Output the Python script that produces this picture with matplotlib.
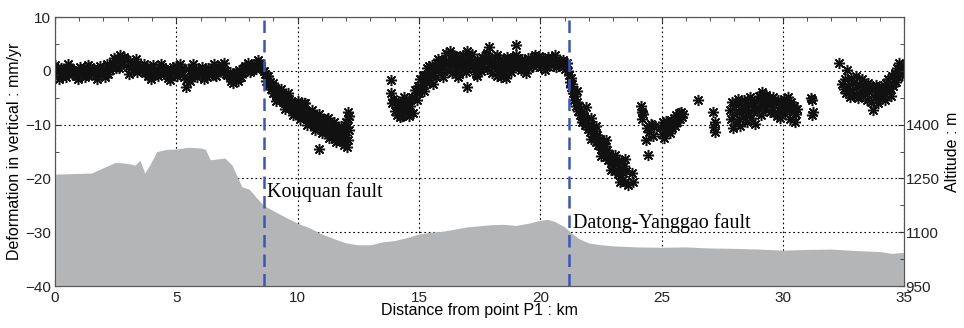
import matplotlib
matplotlib.use("Agg")
import matplotlib.pyplot as plt
import numpy as np

# vertical deformation (mm/yr) along profile
x_flat = [0.0, 0.1, 0.2, 0.3, 0.4, 0.5, 0.6, 0.7, 0.8, 0.9, 1.0, 1.1, 1.2, 1.3, 1.4, 1.5, 1.6, 1.7, 1.8, 1.9,
          2.0, 2.1, 2.2, 2.3, 2.4, 2.5, 2.6, 2.7, 2.8, 2.9, 3.0, 3.1, 3.2, 3.3, 3.4, 3.5, 3.6, 3.7, 3.8, 3.9,
          4.0, 4.1, 4.2, 4.3, 4.4, 4.5, 4.6, 4.7, 4.8, 4.9, 5.0, 5.1, 5.2, 5.3, 5.4, 5.5, 5.6, 5.7, 5.8, 5.9,
          6.0, 6.1, 6.2, 6.3, 6.4, 6.5, 6.6, 6.7, 6.8, 6.9, 7.0, 7.1, 7.2, 7.3, 7.4, 7.5, 7.6, 7.7, 7.8, 7.9,
          8.0, 8.1, 8.2, 8.3, 8.4, 8.5, 8.6]
y_flat = [1.0, 0.3, -0.5, 0.2, -0.8, -0.2, 0.5, -0.6, -0.1, -0.9, 0.2, -0.4, 0.6, -0.7, 0.0, -0.5, 0.4, -0.3, 0.3, -0.8,
          0.6, 0.0, -0.6, 0.8, 1.5, 0.5, 2.0, 3.0, 1.2, 2.2, 0.8, 1.8, 0.2, 1.0, -0.3, 0.9, 0.1, -0.4, 0.7, -0.2,
          0.5, -0.7, 0.3, -0.3, 0.8, -0.5, 0.2, -0.9, 0.4, -0.2, 0.9, -0.6, 0.1, -1.2, -3.0, 0.3, -0.5, 1.2, -0.2, 0.4,
          -0.8, 0.1, -0.4, 0.6, -0.3, 0.0, -0.7, 0.8, 0.3, 1.0, -0.1, -0.8, -0.3, -1.5, -0.6, -1.0, 0.2, -0.4, 0.5, 0.0,
          0.7, 0.2, 1.2, 0.4, 1.0, 0.5, 0.0]

x_flat2 = [0.05, 0.25, 0.45, 0.65, 0.85, 1.05, 1.25, 1.45, 1.65, 1.85, 2.05, 2.25, 2.45, 2.65, 2.85, 3.05, 3.25,
           3.45, 3.65, 3.85, 4.05, 4.25, 4.45, 4.65, 4.85, 5.05, 5.25, 5.45, 5.65, 5.85, 6.05, 6.25, 6.45, 6.65,
           6.85, 7.05, 7.25, 7.45, 7.65, 7.85, 8.05, 8.25, 8.45,
           0.15, 0.55, 0.95, 1.35, 1.75, 2.15, 3.35, 3.95, 4.35, 4.75, 5.15, 5.55, 6.15, 6.55, 6.95, 7.35,
           7.55, 7.95, 8.35]
y_flat2 = [-0.3, 0.6, -1.2, 0.1, -1.0, 0.7, -1.1, 0.8, -0.9, 0.9, -1.2, 0.2, 2.3, 0.6, 2.6, -0.6, 1.5,
           0.4, 1.2, -1.0, 1.1, -1.0, 0.3, -1.3, 0.7, -1.0, 0.5, -1.6, 0.6, -1.1, 0.8, -1.2, 0.4, -1.0,
           0.6, -0.6, -1.9, -0.2, -1.2, 0.9, -0.3, 0.6, 1.4,
           -1.5, 1.2, -1.6, 1.1, -1.6, 1.2, 2.2, -1.5, 1.3, -1.7, 1.2, -1.9, -1.5, 1.2, 1.4, -2.2,
           -1.8, 1.4, 2.0]

x_kouquan = [8.65, 8.7, 8.75, 8.8, 8.85, 8.9, 8.95, 9.0, 9.05, 9.1, 9.15, 9.2, 9.25, 9.3, 9.35, 9.4, 9.45, 9.5,
             9.55, 9.6, 9.65, 9.7, 9.75, 9.8, 9.85, 9.9, 9.95, 10.0, 10.05, 10.1, 10.15, 10.2, 10.25, 10.3,
             10.35, 10.4, 10.45, 10.5, 10.55, 10.6, 10.65, 10.7, 10.75, 10.8, 10.85, 10.9, 10.95, 11.0, 11.05,
             11.1, 11.15, 11.2, 11.25, 11.3, 11.35, 11.4, 11.45, 11.5, 11.55, 11.6, 11.65, 11.7, 11.75, 11.8,
             11.85, 11.9, 11.95, 12.0, 12.05, 12.07, 12.08, 12.1, 12.06, 12.04, 12.1,
             8.8, 9.0, 9.1, 9.3, 9.5, 9.6, 9.8, 10.0, 10.1, 10.3, 10.4, 10.6, 10.7, 10.9, 11.0, 11.2,
             11.3, 11.5, 11.6, 11.8, 11.9, 12.0]
y_kouquan = [-0.5, -1.8, -1.0, -2.6, -2.0, -3.4, -2.7, -4.1, -3.2, -4.6, -3.6, -5.0, -4.0, -5.4, -4.4, -5.8, -4.6, -6.0,
             -5.0, -6.5, -5.2, -6.9, -5.8, -7.2, -6.1, -7.6, -6.4, -8.0, -6.8, -7.6, -8.4, -6.9, -5.9, -8.6,
             -7.4, -9.0, -7.9, -9.4, -8.2, -9.6, -8.5, -10.2, -8.8, -10.5, -9.0, -14.6, -9.4, -10.8, -9.2,
             -11.2, -9.9, -10.9, -8.8, -11.4, -10.2, -12.0, -10.6, -11.6, -12.6, -10.8, -12.2, -11.4, -13.0, -11.8,
             -12.4, -11.2, -13.6, -12.0, -10.5, -9.0, -7.6, -8.4, -12.8, -14.2, -11.0,
             -1.0, -2.2, -5.6, -3.4, -7.0, -4.2, -8.2, -5.6, -8.9, -6.0, -10.0, -7.2, -11.0, -8.0, -11.6, -9.0,
             -12.4, -9.6, -13.2, -10.2, -13.8, -9.6]

x_mid = [13.85, 13.85, 13.9, 13.95, 14.0, 14.05, 14.1, 14.15, 14.2, 14.25, 14.3, 14.35, 14.4, 14.45, 14.5, 14.55,
         14.6, 14.65, 14.7, 14.75, 14.8, 14.85, 14.9, 14.95, 15.0, 15.05, 15.1, 15.15, 15.2, 15.25, 15.3, 15.35,
         15.4, 15.45, 15.5, 15.55, 15.6, 15.65, 15.7, 15.75, 15.8, 15.85, 15.9, 15.95, 16.0, 16.05, 16.1, 16.15,
         16.2, 16.25, 16.3, 16.35, 16.4, 16.45, 16.5, 16.55, 16.6, 16.65, 16.7, 16.75, 16.8, 16.85, 16.9, 16.95,
         17.0, 17.05, 17.1, 17.15, 17.2, 17.25, 17.3, 17.35, 17.4, 17.45, 17.5, 17.55, 17.6, 17.65, 17.7, 17.75,
         17.8, 17.85, 17.9, 17.95, 18.0, 18.05, 18.1, 18.15, 18.2, 18.25, 18.3, 18.35, 18.4, 18.45, 18.5, 18.55,
         18.6, 18.65, 18.7, 18.75, 18.8, 18.85, 18.9, 18.95, 19.0, 19.05, 19.1, 19.15, 19.2, 19.25, 19.3, 19.35,
         19.4, 19.45, 19.5, 19.55, 19.6, 19.65, 19.7, 19.75, 19.8, 19.85, 19.9, 19.95, 20.0, 20.05, 20.1, 20.15,
         20.2, 20.25, 20.3, 20.35, 20.4, 20.45, 20.5, 20.55, 20.6, 20.65, 20.7, 20.75, 20.8, 20.85, 20.9, 20.95,
         21.0, 21.05, 21.1, 21.15,
         14.2, 14.4, 14.6, 15.2, 15.4, 15.6, 15.8, 16.0, 16.4, 16.6, 17.0, 17.4, 17.8, 18.2, 18.6, 19.0,
         19.4, 19.8, 20.2, 20.6, 21.0]
y_mid = [-1.7, -4.2, -6.0, -5.2, -7.4, -6.3, -8.2, -5.6, -7.0, -6.1, -8.4, -6.8, -5.8, -7.6, -6.4, -7.2,
         -5.4, -6.6, -4.8, -7.8, -5.0, -3.6, -5.4, -2.9, -4.2, -1.6, -3.4, -1.0, -2.6, -0.8, -2.0, 0.5,
         -1.4, 0.2, -0.9, 1.0, -0.3, 0.8, -1.1, 1.5, 0.3, 1.2, -0.2, 2.0, 0.6, 1.4, 3.3, 0.2,
         1.8, 0.9, 3.6, -0.4, 2.4, 1.0, 2.8, 0.3, 1.6, -0.6, 2.2, 1.1, 3.0, 0.5, 1.8, -0.2,
         -3.0, 2.5, 0.8, 1.6, 3.2, 0.4, 1.2, -0.5, 2.0, 0.6, 1.5, 0.0, 2.6, 0.9, 1.9, 3.0,
         0.4, 2.1, 4.5, 1.4, -0.4, 1.8, 0.7, 2.6, -0.9, 1.2, 0.2, 2.2, -1.2, 0.8, 1.9, -0.6,
         1.4, 2.6, 0.4, 1.6, -0.3, 2.3, 0.8, 1.5, 4.8, 2.4, 0.9, 1.8, 0.2, 2.2, 1.2, 0.4,
         1.9, 1.0, 2.4, 0.6, 1.6, 2.0, 0.9, 2.6, 1.3, 2.1, 1.6, 2.8, 1.5, 0.8, 2.3, 1.2,
         1.8, 0.9, 2.5, 1.4, 2.0, 1.1, 2.4, 1.5, 1.9, 0.8, 2.1, 1.3, 1.8, 1.0, 1.6, 2.0,
         1.2, 0.6, 1.4, 0.0,
         -8.6, -4.8, -8.4, -3.8, 0.9, -2.4, 2.2, -1.2, 3.0, -1.2, 3.6, -0.9, 3.4, 3.0, -1.4, 3.0,
         -0.4, 3.0, 0.2, 2.9, 0.4]

x_datong = [21.2, 21.22, 21.25, 21.28, 21.3, 21.33, 21.36, 21.4, 21.43, 21.46, 21.5, 21.55, 21.6, 21.65, 21.7,
            21.75, 21.8, 21.85, 21.9, 21.95, 22.0, 22.05, 22.1, 22.15, 22.2, 22.25, 22.3, 22.35, 22.4, 22.45,
            22.5, 22.55, 22.6, 22.65, 22.7, 22.75, 22.8, 22.85, 22.9, 22.95, 23.0, 23.05, 23.1, 23.15, 23.2,
            23.25, 23.3, 23.35, 23.4, 23.45, 23.5, 23.55, 23.8, 23.82,
            21.5, 21.7, 21.9, 22.1, 22.3, 22.5, 22.7, 22.9, 23.1, 23.3, 23.5, 23.6,
            24.15, 24.18, 24.2, 24.22, 24.35, 24.4, 24.45, 24.5, 24.55, 24.65, 24.7, 24.6]
y_datong = [-0.8, -2.0, -1.4, -3.0, -2.4, -4.2, -3.6, -5.5, -4.6, -6.6, -5.8, -7.4, -6.6, -8.2, -7.4,
            -9.2, -8.4, -10.0, -9.0, -10.8, -9.8, -11.4, -8.8, -10.6, -12.4, -11.2, -13.2, -12.0, -13.8, -12.6,
            -14.6, -13.4, -15.2, -14.0, -16.0, -14.8, -16.6, -15.4, -17.2, -16.2, -18.0, -16.8, -18.6, -17.4, -19.2,
            -16.6, -18.2, -20.2, -19.0, -17.6, -20.6, -18.6, -19.0, -20.6,
            -3.8, -9.6, -6.8, -12.6, -10.2, -15.8, -12.8, -18.4, -15.6, -20.6, -16.4, -21.2,
            -6.6, -7.6, -9.0, -8.0, -12.8, -10.6, -15.6, -11.4, -9.8, -12.2, -10.4, -10.0]

x_east = [24.95, 25.0, 25.05, 25.1, 25.15, 25.2, 25.25, 25.3, 25.35, 25.4, 25.45, 25.5, 25.55, 25.6, 25.65,
          25.7, 25.75, 25.8, 25.85, 25.9,
          26.5, 27.1, 27.15, 27.2, 27.22, 27.8, 27.85, 27.9, 27.95, 28.0, 28.05, 28.1, 28.15, 28.2, 28.25,
          28.3, 28.35, 28.4, 28.45, 28.5, 28.55, 28.6, 28.65, 28.7, 28.75, 28.8, 28.85, 28.9, 28.95, 29.0,
          29.05, 29.1, 29.15, 29.2, 29.25, 29.3, 29.35, 29.4, 29.45, 29.5, 29.55, 29.6, 29.65, 29.7, 29.75,
          29.8, 29.85, 29.9, 29.95, 30.0, 30.05, 30.1, 30.15, 30.2, 30.25, 30.3, 30.35, 30.4, 30.45, 30.5,
          30.55, 30.6, 31.15, 31.2, 31.18, 31.22]
y_east = [-10.4, -11.8, -9.6, -12.4, -10.8, -9.4, -11.2, -10.0, -11.6, -9.2, -10.6, -8.8, -10.2, -8.2, -9.6,
          -7.8, -9.0, -7.6, -8.6, -8.0,
          -5.4, -7.6, -10.4, -11.4, -9.6, -7.2, -9.0, -5.8, -10.6, -8.0, -6.4, -9.4, -5.2, -7.6, -10.2,
          -6.6, -8.6, -5.4, -7.2, -9.6, -6.2, -7.8, -4.8, -8.8, -6.0, -7.0, -9.8, -5.6, -7.4, -4.6,
          -6.4, -8.2, -3.9, -5.6, -7.0, -4.4, -6.2, -5.0, -7.6, -5.6, -6.8, -4.8, -7.8, -6.0, -8.4,
          -5.4, -7.2, -8.8, -6.2, -7.4, -5.2, -8.0, -6.4, -4.9, -7.0, -9.0, -5.8, -7.6, -6.6, -9.6,
          -8.0, -7.0, -5.0, -5.4, -8.2, -7.6]

x_end = [32.3, 32.45, 32.5, 32.55, 32.6, 32.65, 32.7, 32.75, 32.8, 32.85, 32.9, 32.95, 33.0, 33.05, 33.1,
         33.15, 33.2, 33.25, 33.3, 33.35, 33.4, 33.45, 33.5, 33.55, 33.6, 33.65, 33.7, 33.75, 33.8, 33.85,
         33.9, 33.95, 34.0, 34.05, 34.1, 34.15, 34.2, 34.25, 34.3, 34.35, 34.4, 34.45, 34.5, 34.55, 34.6,
         34.65, 34.7, 34.75, 34.8, 34.85, 34.9, 34.95]
y_end = [1.5, -2.4, -3.4, -1.6, -4.2, 0.2, -2.8, -4.8, -1.4, -3.6, -2.2, -4.4, -1.0, -3.0, -5.0,
         -2.4, -3.8, -1.6, -4.6, -2.8, -3.6, -5.4, -2.2, -4.0, -3.0, -5.8, -7.2, -3.4, -4.8, -2.6,
         -6.0, -3.8, -5.0, -2.8, -4.4, -3.2, -5.4, -2.2, -4.0, -1.6, -3.2, -4.6, -1.0, -2.8, -0.4,
         -2.0, 0.6, -1.2, 1.5, 0.0, -0.8, 0.9]

# topography along profile (m)
x_topo = [0.0, 1.5, 2.5, 3.0, 3.3, 3.5, 3.7, 3.9, 4.2, 4.6, 5.0, 5.5, 6.0, 6.2, 6.4, 7.0, 7.3, 7.5, 7.7, 8.0,
          8.3, 8.6, 9.0, 9.5, 10.0, 10.5, 11.0, 11.5, 12.0, 12.5, 13.0, 13.5, 14.0, 14.5, 15.0, 15.5, 16.0,
          16.5, 17.0, 17.5, 18.0, 18.5, 19.0, 19.5, 20.0, 20.3, 20.6, 21.0, 21.3, 21.6, 22.0, 22.5, 23.0,
          24.0, 25.0, 26.0, 27.0, 28.0, 29.0, 30.0, 31.0, 32.0, 33.0, 34.0, 34.5, 35.0]
alt_topo = [1262, 1265, 1295, 1292, 1287, 1301, 1265, 1287, 1325, 1331, 1332, 1337, 1335, 1331, 1302, 1307,
            1287, 1257, 1227, 1220, 1197, 1175, 1160, 1142, 1125, 1112, 1095, 1082, 1070, 1065, 1065, 1073,
            1077, 1085, 1095, 1100, 1103, 1109, 1115, 1118, 1121, 1122, 1119, 1125, 1133, 1136, 1130, 1115,
            1097, 1082, 1070, 1065, 1062, 1059, 1058, 1059, 1056, 1055, 1053, 1050, 1052, 1053, 1049, 1046,
            1041, 1044]

faults = [8.6, 21.2]
fault_names = ["Kouquan fault", "Datong-Yanggao fault"]
fault_label_pos = [(8.72, -23.4), (21.35, -29.3)]

plt.rcParams['font.family'] = ['Liberation Sans', 'DejaVu Sans']

fig = plt.figure(figsize=(9.64, 3.28), dpi=100)
ax = fig.add_axes([0.057, 0.128, 0.881, 0.82])

star = (8, 2, 0)
for xs, ys in [(x_flat, y_flat), (x_flat2, y_flat2), (x_kouquan, y_kouquan), (x_mid, y_mid),
               (x_datong, y_datong), (x_east, y_east), (x_end, y_end)]:
    ax.plot(xs, ys, linestyle='none', marker=star, ms=8, mew=1.1, color='#111111')

ax.set_xlim(0, 35)
ax.set_ylim(-40, 10)
ax.set_xticks([0, 5, 10, 15, 20, 25, 30, 35])
ax.set_xticks(range(0, 36), minor=True)
ax.set_yticks([-40, -30, -20, -10, 0, 10])
ax.set_yticks(range(-40, 11, 5), minor=True)
ax.grid(True, which='major', linestyle=(0, (1.5, 2.5)), color='black', linewidth=0.8)
ax.tick_params(which='both', direction='in', top=True, labelsize=11, colors='#333333',
               labelcolor='#222222')
ax.tick_params(which='major', length=4)
ax.tick_params(which='minor', length=3)
ax.tick_params(axis='x', pad=3.5)
ax.tick_params(axis='y', right=False, pad=3)
ax.set_xlabel("Distance from point P1 : km", fontsize=11.5, labelpad=-1)
ax.set_ylabel("Deformation in vertical : mm/yr", fontsize=11.5, labelpad=2)

ax2 = ax.twinx()
ax2.fill_between(x_topo, 950, alt_topo, color='#b3b5b7', linewidth=0)
ax2.set_ylim(950, 1700)
ax2.set_yticks([950, 1100, 1250, 1400])
ax2.set_yticks(range(950, 1701, 75), minor=True)
ax2.tick_params(which='both', direction='in', labelsize=11, colors='#333333', labelcolor='#222222', pad=1)
ax2.tick_params(which='major', length=4)
ax2.tick_params(which='minor', length=3)
ax2.set_ylabel("Altitude : m", fontsize=11.5, labelpad=4)

for xf, name, (tx, ty) in zip(faults, fault_names, fault_label_pos):
    ax2.axvline(xf, color='#3a55c0', linestyle=(0, (5, 2.8)), linewidth=1.8)
    # label drawn on the top axes so the terrain fill does not hide it
    ax2.text(tx, ty, name, fontsize=14.5, family='Liberation Serif', transform=ax.transData)

for a in (ax, ax2):
    for s in a.spines.values():
        s.set_color('#555555')
        s.set_linewidth(0.8)

fig.savefig("out.png", dpi=100)
